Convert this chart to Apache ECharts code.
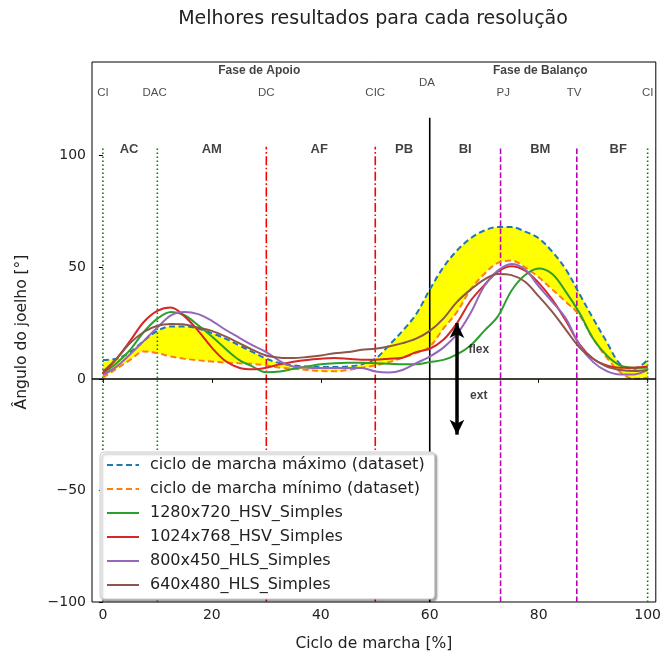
<!DOCTYPE html>
<html>
<head>
<meta charset="utf-8">
<script src="https://cdn.jsdelivr.net/npm/echarts@6/dist/echarts.min.js"></script>
<style>
  html, body { margin: 0; padding: 0; background: #fff; }
  #chart { width: 664px; height: 657px; }
</style>
</head>
<body>
<div id="chart"></div>
<script>
// gait cycle [%]
const cycle = [0, 2.5, 5, 7.5, 10, 12.5, 15, 17.5, 20, 22.5, 25, 27.5, 30, 32.5, 35, 37.5, 40,
  42.5, 45, 47.5, 50, 52.5, 55, 57.5, 60, 62.5, 65, 67.5, 70, 72.5, 75, 77.5, 80, 82.5, 85,
  87.5, 90, 92.5, 95, 97.5, 100]

const maxDataset = [8.5, 9, 12, 17, 21.5, 23.5, 23.5, 22.5, 20.5, 18, 15, 12, 9, 7, 6, 5.5, 5.3,
  5.3, 5.5, 6.5, 9, 15, 21.5, 29, 40, 50, 57.5, 63, 66.5, 68, 68, 66, 63, 57, 49,
  38, 27, 16.5, 6.5, 4.5, 8.5]
const minDataset = [0.5, 4.5, 8.5, 12.3, 11.5, 10, 9, 8.3, 7.8, 7.3, 7, 6.7, 6, 5, 4.5, 4, 3.5,
  3.4, 4, 5, 6, 7.5, 9.5, 11.5, 14.5, 22.5, 30, 40, 47, 52, 53, 50, 45.5, 40, 34.5,
  28.5, 18, 9.5, 3, 0, 0.5]
const hsv1280 = [2.5, 7, 13, 21, 27, 30, 28.5, 24, 19, 13.5, 8.5, 5.5, 3, 3.3, 4.5, 5.5, 6.5,
  7, 7.2, 7.2, 7, 6.8, 6.5, 6.5, 7.5, 8.5, 11, 15, 21.5, 28, 39.5, 46.5, 49.5, 47, 39,
  29.5, 18, 10.5, 6, 5, 5]
const hsv1024 = [2.5, 9, 17, 25.5, 30.5, 32, 28, 21.5, 14, 8, 5, 4.3, 5, 6.5, 7.7, 8.5, 9,
  9.3, 9, 8.6, 8.6, 9, 9.5, 12, 13.5, 17.5, 25, 35, 42, 48, 50.5, 48.5, 43, 35.5, 26,
  15.5, 9, 6, 5, 5, 5.5]
const hls800 = [1.7, 5.5, 11, 17, 23, 28.5, 30, 29, 26, 22, 18.5, 15, 12, 8, 5.5, 5, 4.9,
  4.9, 4.9, 4.9, 3.3, 2.8, 4, 7, 10, 14, 20, 29.5, 41.5, 48.5, 51.5, 49, 41.5, 34.5, 27,
  15, 7.5, 3.5, 2, 2, 4]
const hls640 = [3.2, 9, 16, 21, 23.8, 24.6, 24.4, 23, 21.5, 19, 16, 13, 10.5, 9.5, 9.3, 9.8, 10.5,
  11.5, 12, 13, 13.5, 14.5, 16, 18, 21.5, 27, 34.5, 40, 44.5, 47, 46.5, 43.5, 37, 30, 22,
  14, 9, 5.5, 4, 3.5, 4]

// gait events (vertical lines)
const eventX = [0, 10, 30, 50, 60, 73, 87, 100]
const eventTop = [104, 104, 104, 104, 117, 104, 104, 104]
const eventNames = ["CI", "DAC", "DC", "CIC", "DA", "PJ", "TV", "CI"]
const eventLabelX = [0, 9.5, 30, 50, 59.5, 73.5, 86.5, 100]
const eventLabelY = [128, 128, 128, 128, 132.5, 128, 128, 128]

// sub-phases
const phaseNames = ["AC", "AM", "AF", "PB", "BI", "BM", "BF"]
const phaseX = [4.8, 20, 39.7, 55.3, 66.5, 80.3, 94.6]
const phaseY = 103

const stageNames = ["Fase de Apoio", "Fase de Balanço"]
const stageX = [28.7, 80.3]
const stageY = 138

const arrowX = 65
const arrowRange = [-25, 25]
const arrowTexts = ["flex", "ext"]
const arrowTextX = [69, 69]
const arrowTextY = [13, -7.5]

const xTicks = [0, 20, 40, 60, 80, 100]
const yTicks = [-100, -50, 0, 50, 100]

const seriesNames = [
  "ciclo de marcha máximo (dataset)",
  "ciclo de marcha mínimo (dataset)",
  "1280x720_HSV_Simples",
  "1024x768_HSV_Simples",
  "800x450_HLS_Simples",
  "640x480_HLS_Simples",
]
const seriesValues = [maxDataset, minDataset, hsv1280, hsv1024, hls800, hls640]
const seriesColors = ["#1f77b4", "#ff7f0e", "#2ca02c", "#d62728", "#9467bd", "#8c564b"]

const pair = (vals) => cycle.map((x, i) => [x, vals[i]])
const SMOOTH = 0.35

const eventStyle = (i) => {
  const n = eventNames[i]
  if (n === "CI" || n === "DAC") return { color: "#008000", type: [1.5, 2.5], width: 1.6 }
  if (n === "DC" || n === "CIC") return { color: "#ff0000", type: [9, 2.5, 1.6, 2.5], width: 1.6 }
  if (n === "DA") return { color: "#000", type: "solid", width: 1.6 }
  return { color: "#bf00bf", type: [5.5, 2.5], width: 1.6 }
}

const textSeries = (points, style) => ({
  type: "scatter",
  silent: true,
  symbolSize: 0,
  z: 6,
  data: points,
  label: {
    show: true,
    position: "inside",
    formatter: "{b}",
    fontFamily: "Liberation Sans",
    ...style,
  },
})

const series = []

// yellow band: fill up to the max curve, then blank out everything below the min curve
series.push({
  type: "line", silent: true, smooth: SMOOTH, symbol: "none", z: 1,
  data: pair(maxDataset), lineStyle: { opacity: 0 },
  areaStyle: { color: "#ffff00", opacity: 1 },
})
series.push({
  type: "line", silent: true, smooth: SMOOTH, symbol: "none", z: 1,
  data: pair(minDataset), lineStyle: { opacity: 0 },
  areaStyle: { color: "#ffffff", opacity: 1 },
})

// event lines
eventX.forEach((x, i) => {
  series.push({
    type: "line", silent: true, symbol: "none", z: 3,
    data: [[x, -100], [x, eventTop[i]]],
    lineStyle: eventStyle(i),
  })
})

// zero line + flex/ext arrow
series.push({
  type: "line", silent: true, symbol: "none", data: [], z: 4,
  markLine: {
    silent: true, symbol: "none", label: { show: false },
    lineStyle: { color: "#000", type: "solid", width: 1.6 },
    data: [{ yAxis: 0 }],
  },
})
series.push({
  type: "line", silent: true, symbol: "none", data: [], z: 5,
  markLine: {
    silent: true, symbol: ["arrow", "arrow"], symbolSize: [11, 15], label: { show: false },
    lineStyle: { color: "#000", type: "solid", width: 3.5 },
    data: [[{ coord: [arrowX, arrowRange[0]] }, { coord: [arrowX, arrowRange[1]] }]],
  },
})

// curves
seriesValues.forEach((vals, i) => {
  series.push({
    name: seriesNames[i],
    type: "line",
    smooth: SMOOTH,
    symbol: "none",
    z: 4,
    data: pair(vals),
    lineStyle: { color: seriesColors[i], width: 2, type: i < 2 ? [6, 3.5] : "solid" },
    itemStyle: { color: seriesColors[i] },
  })
})

// annotations
series.push(textSeries(eventNames.map((n, i) => ({ name: n, value: [eventLabelX[i], eventLabelY[i]] })),
  { fontSize: 11.5, color: "#222" }))
series.push(textSeries(phaseNames.map((n, i) => ({ name: n, value: [phaseX[i], phaseY] })),
  { fontSize: 13, fontWeight: "bold", color: "#111" }))
series.push(textSeries(stageNames.map((n, i) => ({ name: n, value: [stageX[i], stageY] })),
  { fontSize: 12, fontWeight: "bold", color: "#111" }))
series.push(textSeries(arrowTexts.map((n, i) => ({ name: n, value: [arrowTextX[i], arrowTextY[i]] })),
  { fontSize: 12, fontWeight: "bold", color: "#111" }))

const chart = echarts.init(document.getElementById("chart"), null, { renderer: "canvas" })
const axisFont = { fontFamily: "DejaVu Sans", fontSize: 14, color: "#222" }

chart.setOption({
  animation: false,
  backgroundColor: "#fff",
  graphic: [{
    type: "text", x: 373, y: 19,
    style: {
      text: "Melhores resultados para cada resolução", textAlign: "center", textVerticalAlign: "middle",
      font: "19px 'DejaVu Sans'", fill: "#222",
    },
  }],
  grid: { left: 92, right: 8, top: 62, bottom: 51, show: true, borderColor: "#000", borderWidth: 1, backgroundColor: "transparent" },
  legend: {
    data: seriesNames,
    orient: "vertical",
    left: 100, top: 452,
    padding: [5, 10, 6, 6],
    itemGap: 8, itemWidth: 32, itemHeight: 14,
    itemStyle: { opacity: 0 },
    backgroundColor: "#fff",
    borderColor: "#ccc", borderWidth: 1, borderRadius: 4,
    shadowColor: "rgba(0,0,0,0.35)", shadowBlur: 2, shadowOffsetX: 2, shadowOffsetY: 2,
    textStyle: { fontFamily: "DejaVu Sans", fontSize: 16, color: "#222", padding: [0, 0, 0, 6] },
  },
  xAxis: {
    type: "value", min: -2, max: 101.5,
    name: "Ciclo de marcha [%]", nameLocation: "middle", nameGap: 34,
    nameTextStyle: { ...axisFont, fontSize: 15.5 },
    axisLine: { show: false },
    axisTick: { show: true, length: 4, customValues: xTicks, lineStyle: { color: "#000" } },
    axisLabel: { ...axisFont, margin: 6, customValues: xTicks },
    splitLine: { show: false },
  },
  yAxis: {
    type: "value", min: -100, max: 142,
    name: "Ângulo do joelho [°]", nameLocation: "middle", nameGap: 62, nameRotate: 90,
    nameTextStyle: { ...axisFont, fontSize: 15.5 },
    axisLine: { show: false },
    axisTick: { show: true, length: 4, customValues: yTicks, lineStyle: { color: "#000" } },
    axisLabel: { ...axisFont, margin: 6, customValues: yTicks, formatter: (v) => String(v).replace("-", "\u2212") },
    splitLine: { show: false },
  },
  series,
})
</script>
</body>
</html>
